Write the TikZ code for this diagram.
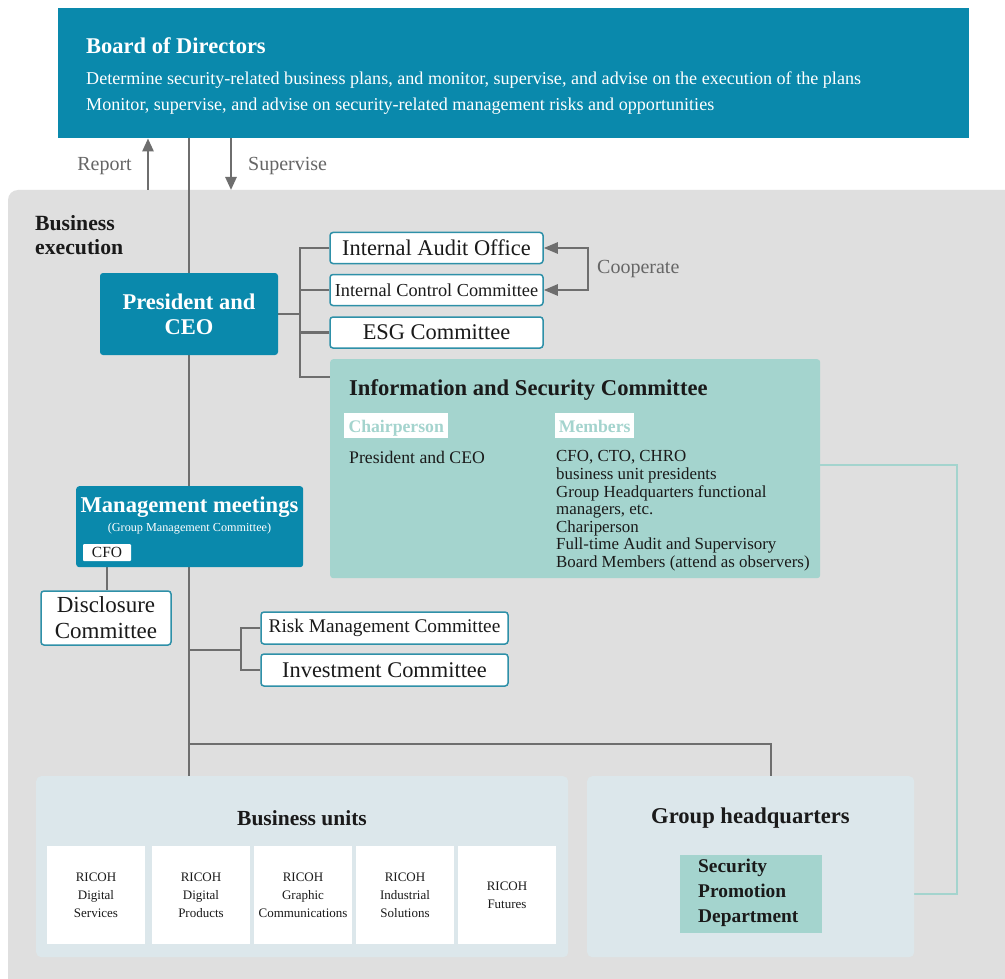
\documentclass[tikz,border=0pt]{standalone}
\usepackage{fontspec}
\setmainfont{Liberation Serif}
\usetikzlibrary{arrows.meta,calc}
\definecolor{teal1}{HTML}{0A89AC}
\definecolor{teallt}{HTML}{A4D4CE}
\definecolor{graybg}{HTML}{DFDFDF}
\definecolor{bubg}{HTML}{DCE7EB}
\definecolor{lineg}{HTML}{6E6E6E}
\definecolor{txtg}{HTML}{666666}
\definecolor{bord}{HTML}{2E90A8}
\definecolor{dark}{HTML}{1A1A1A}
\newcommand\fsz[2]{\fontsize{#1}{#2}\selectfont}
\pgfdeclarelayer{bglayer}
\pgfdeclarelayer{linelayer}
\pgfsetlayers{bglayer,linelayer,main}
\begin{document}
\begin{tikzpicture}[x=1pt,y=-1pt,
  conn/.style={draw=lineg, line width=2.4pt},
  arr/.style={draw=lineg, line width=2.6pt, -{Triangle[length=13pt,width=11pt]}},
  coop/.style={draw=lineg, line width=2.4pt, {Triangle[length=14pt,width=11pt]}-{Triangle[length=14pt,width=11pt]}},
  tline/.style={draw=teallt, line width=1.6pt},
  wbox/.style={draw=bord, fill=white, line width=1.5pt, rounded corners=3pt, inner sep=0pt, text=dark, font=\fsz{22.4}{25}},
  tbox/.style={fill=teal1, rounded corners=3pt, inner sep=0pt, text=white},
  unitbox/.style={fill=white, minimum width=98, minimum height=98, inner sep=0pt, align=center, text=dark, font=\fsz{13}{18}},
  lbl/.style={text=txtg, font=\fsz{20}{22}, inner sep=0pt},
  tag/.style={fill=white, minimum height=25, inner sep=0pt, text=teallt, text height=15pt, text depth=0pt, font=\bfseries\fsz{17.7}{20}},
]
\useasboundingbox (0,0) rectangle (1005,979);
\clip (0,0) rectangle (1005,979);

% background regions
\begin{pgfonlayer}{bglayer}
\fill[white] (0,0) rectangle (1005,979);
\fill[graybg, rounded corners=10pt] (8,1010) -- (8,190) -- (1030,190) -- (1030,1010) -- cycle;
\end{pgfonlayer}

% Board of Directors
\node[fill=teal1, minimum width=911, minimum height=130, anchor=north west, inner sep=0pt] (board) at (58,8) {};
\node[anchor=west, text=white, font=\bfseries\fsz{22.5}{25}, inner sep=0pt] (boardt) at (86,46) {Board of Directors};
\node[anchor=west, text=white, font=\fsz{18.1}{20}, inner sep=0pt] (boardl1) at (86,80) {Determine security-related business plans, and monitor, supervise, and advise on the execution of the plans};
\node[anchor=west, text=white, font=\fsz{18.1}{20}, inner sep=0pt] (boardl2) at (86,106) {Monitor, supervise, and advise on security-related management risks and opportunities};

% Report / Supervise
\coordinate (rep) at (148,190);
\coordinate (sup) at (231,138);
\node[lbl, anchor=east] (reportt) at (132,166) {Report};
\node[lbl, anchor=west] (supt) at (248,166) {Supervise};

% Business execution
\node[anchor=west, align=left, inner sep=0pt, text=dark, font=\bfseries\fsz{21.7}{24}] (bexec) at (35,235) {Business\\execution};

% President and CEO
\node[tbox, minimum width=178, minimum height=82, align=center, font=\bfseries\fsz{22.5}{25}] (ceo) at (189,314) {President and\\CEO};

% committees beside CEO
\node[wbox, minimum width=213, minimum height=31] (iao) at (436.5,248) {Internal Audit Office};
\node[wbox, minimum width=213, minimum height=31] (icc) at (436.5,290) {\fsz{18.3}{22}Internal Control Committee};
\node[wbox, minimum width=213, minimum height=31] (esg) at (436.5,332.5) {ESG Committee};
\node[lbl, anchor=west] (coopt) at (597,269) {Cooperate};

% Information and Security Committee
\node[fill=teallt, rounded corners=3pt, minimum width=490, minimum height=219, anchor=north west, inner sep=0pt] (isc) at (330,359) {};
\node[anchor=west, inner sep=0pt, text=dark, font=\bfseries\fsz{22.6}{25}] (isct) at (349,390) {Information and Security Committee};
\node[tag, minimum width=104, anchor=west] (chair) at (344,425) {Chairperson};
\node[tag, minimum width=79, anchor=west] (memb) at (555,425) {Members};
\node[anchor=west, inner sep=0pt, text=dark, font=\fsz{17.7}{20}] (chairt) at (349,457) {President and CEO};
\node[anchor=north west, align=left, inner sep=0pt, text=dark, font=\fsz{16.9}{17.6}] (membt) at (556,450.5) {CFO, CTO, CHRO\\business unit presidents\\Group Headquarters functional\\managers, etc.\\Chariperson\\Full-time Audit and Supervisory\\Board Members (attend as observers)};

% Management meetings
\node[tbox, minimum width=227, minimum height=81, anchor=north west] (mm) at (76,486) {};
\node[inner sep=0pt, text=white, font=\bfseries\fsz{22.6}{25}] (mmt) at (189.5,507) {Management meetings};
\node[inner sep=0pt, text=white, font=\fsz{12.2}{14}] (mms) at (189.5,529) {(Group Management Committee)};
\node[fill=white, rounded corners=1pt, minimum width=48, minimum height=17, inner sep=0pt, text=dark, font=\fsz{15.5}{17}] (cfo) at (107,552.5) {CFO};

% Disclosure committee
\node[wbox, minimum width=130, minimum height=54, align=center, font=\fsz{23}{26}] (disc) at (106,618) {Disclosure\\Committee};

% Risk / Investment
\node[wbox, minimum width=247, minimum height=32] (rmc) at (384.5,628) {\fsz{19.3}{22}Risk Management Committee};
\node[wbox, minimum width=247, minimum height=32] (ivc) at (384.5,670) {Investment Committee};

% Business units
\node[fill=bubg, rounded corners=5pt, minimum width=532, minimum height=181, anchor=north west, inner sep=0pt] (bu) at (36,776) {};
\node[inner sep=0pt, text=dark, font=\bfseries\fsz{21.5}{24}] (but) at (302,818) {Business units};
\node[unitbox] (u1) at (96,895) {RICOH\\Digital\\Services};
\node[unitbox] (u2) at (201,895) {RICOH\\Digital\\Products};
\node[unitbox] (u3) at (303,895) {RICOH\\Graphic\\Communications};
\node[unitbox] (u4) at (405,895) {RICOH\\Industrial\\Solutions};
\node[unitbox] (u5) at (507,895) {RICOH\\Futures};

% Group headquarters
\node[fill=bubg, rounded corners=5pt, minimum width=327, minimum height=181, anchor=north west, inner sep=0pt] (ghq) at (587,776) {};
\node[inner sep=0pt, text=dark, font=\bfseries\fsz{22.6}{25}] (ghqt) at (750.5,818) {Group headquarters};
\node[fill=teallt, minimum width=142, minimum height=78, anchor=north west, inner sep=0pt] (spd) at (680,855) {};
\node[anchor=west, align=left, inner sep=0pt, text=dark, font=\bfseries\fsz{19.4}{25}] (spdt) at (698,893) {Security\\Promotion\\Department};

% connectors
\coordinate (bx) at (300,0);
\coordinate (iscpt) at (330,377);
\coordinate (bx2) at (241,0);
\coordinate (mbranch) at (189,650);
\coordinate (hb) at (189,744);
\coordinate (hqin) at (771,776);
\begin{pgfonlayer}{linelayer}
\draw[conn] (board.south -| ceo.center) -- (bu.north -| ceo.center);
\draw[arr] (rep) -- (rep |- board.south);
\draw[arr] (sup) -- (sup |- rep);
\draw[conn] (ceo.east) -- (ceo.east -| bx);
\draw[conn] (iao.west) -- (iao.west -| bx) -- (iscpt -| bx) -- (iscpt);
\draw[conn] (icc.west) -- (icc.west -| bx);
\draw[conn] (esg.west) -- (esg.west -| bx);
\draw[coop] (iao.east) -- ++(44,0) |- (icc.east);
\draw[conn] (cfo.south) -- (cfo.south |- disc.north);
\draw[conn] (mbranch) -- (mbranch -| bx2);
\draw[conn] (rmc.west) -- (rmc.west -| bx2) -- (ivc.west -| bx2) -- (ivc.west);
\draw[conn] (hb) -| (hqin);
\draw[tline] (isc.east |- 0,465) -- (957,465) |- (spd.east);
\end{pgfonlayer}
\end{tikzpicture}
\end{document}
